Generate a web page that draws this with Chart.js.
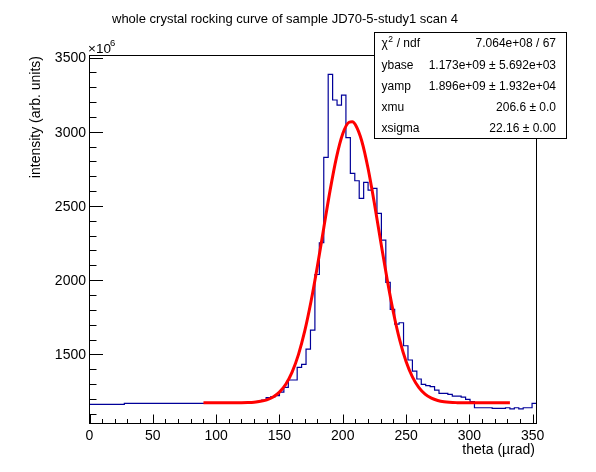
<!DOCTYPE html>
<html>
<head>
<meta charset="utf-8">
<script src="https://cdn.jsdelivr.net/npm/chart.js@4.4.1/dist/chart.umd.min.js"></script>
<style>
  html, body { margin: 0; padding: 0; background: #fff; }
  #wrap { width: 596px; height: 472px; }
</style>
</head>
<body>
<div id="wrap"><canvas id="rocking" width="596" height="472"></canvas></div>
<script>
// histogram: lower bin edges (µrad) and bin contents (x10^6)
const binEdges = [0, 27.5, 94, 97.5, 101, 104.5, 108, 111.5, 115, 118.5, 122, 125.5, 129, 132.5, 136,
  139.5, 143, 146.5, 150, 153.5, 157, 160.5, 164, 167.5, 171, 174.5, 178,
  181.5, 185, 188.5, 192, 195.5, 199, 202.5, 206, 209.5, 213, 216.5, 220, 223.5, 227, 230.5, 234,
  237.5, 241, 244.5, 248, 251.5, 255, 258.5, 262, 265.5, 269, 272.5, 276, 279.5, 283, 286.5, 290, 293.5, 297, 300.5,
  304, 307.5, 311, 314.5, 318, 321.5, 325, 328.5, 332, 335.5, 339, 342.5, 346, 349.5];
const binCounts = [1163, 1170, 1170, 1170, 1171, 1171, 1172, 1172, 1173, 1174, 1175, 1177, 1180, 1184, 1192,
  1208, 1214, 1222, 1246, 1278, 1327, 1327, 1412, 1433, 1535, 1663, 2038,
  2252, 2828, 3387, 3214, 3180, 3247, 2960, 2720, 2670, 2551, 2659, 2607, 2619, 2450, 2270, 1985,
  1803, 1704, 1713, 1558, 1462, 1387, 1334, 1298, 1289, 1282, 1259, 1237, 1237, 1230, 1219, 1219, 1212, 1197, 1181,
  1140, 1140, 1140, 1140, 1136, 1136, 1136, 1140, 1133, 1140, 1133, 1140, 1140, 1170];
const lastEdge = 353;

// fitted curve read along its length
const fitTheta = [90, 100, 110, 120, 125, 130, 135, 140, 145, 150, 155, 160, 165, 170, 175, 180, 185, 190, 195,
  200, 205, 207.5, 210, 215, 220, 225, 230, 235, 240, 245, 250, 255, 260, 265, 270, 275, 280, 290, 300, 310, 320, 332];
const fitCurve = [1173.0, 1173.0, 1173.1, 1173.9, 1175.2, 1177.8, 1183.3, 1193.7, 1212.8, 1245.7, 1299.0, 1380.8,
  1498.5, 1657.6, 1859.0, 2095.4, 2352.0, 2605.0, 2826.1, 2986.7, 3064.1, 3067.4, 3046.8, 2937.6, 2752.2, 2516.1,
  2258.6, 2007.0, 1781.8, 1595.4, 1451.5, 1347.6, 1276.9, 1231.8, 1204.6, 1189.2, 1180.9, 1174.6, 1173.3, 1173.0,
  1173.0, 1173.0];

const xTicks = [0, 50, 100, 150, 200, 250, 300, 350];
const yTicks = [1500, 2000, 2500, 3000, 3500];

const statNames = ['χ2 / ndf', 'ybase', 'yamp', 'xmu', 'xsigma'];
const statValues = ['7.064e+08 / 67', '1.173e+09 ± 5.692e+03', '1.896e+09 ± 1.932e+04', '206.6 ± 0.0', '22.16 ± 0.00'];

const FONT = '"Liberation Sans", Arial, Helvetica, sans-serif';

const histPoints = binEdges.map((e, i) => ({ x: e, y: binCounts[i] }));
histPoints.push({ x: lastEdge, y: binCounts[binCounts.length - 1] });
const fitPoints = fitTheta.map((t, i) => ({ x: t, y: fitCurve[i] }));

// ROOT-like frame, ticks, titles and stats box
const rootFrame = {
    id: 'rootFrame',
    afterDatasetsDraw(chart) {
        const { ctx, chartArea: a, scales: { x, y } } = chart;
        ctx.save();
        ctx.strokeStyle = '#000';
        ctx.lineWidth = 1;
        ctx.strokeRect(a.left, a.top, a.right - a.left, a.bottom - a.top);

        ctx.beginPath();
        const xStep = (xTicks[1] - xTicks[0]) / 5;
        for (let v = xTicks[0]; v <= x.max; v += xStep) {
            const px = Math.round(x.getPixelForValue(v)) + 0.5;
            const major = xTicks.includes(Math.round(v));
            ctx.moveTo(px, a.bottom);
            ctx.lineTo(px, a.bottom - (major ? 9 : 4.5));
        }
        const yStep = (yTicks[1] - yTicks[0]) / 5;
        for (let v = yTicks[0] - yStep * Math.floor((yTicks[0] - y.min) / yStep); v <= y.max; v += yStep) {
            const py = Math.round(y.getPixelForValue(v)) + 0.5;
            const major = yTicks.includes(Math.round(v));
            ctx.moveTo(a.left, py);
            ctx.lineTo(a.left + (major ? 13.5 : 7), py);
        }
        ctx.stroke();

        ctx.fillStyle = '#000';
        ctx.font = `14px ${FONT}`;
        ctx.textAlign = 'center';
        ctx.textBaseline = 'middle';
        xTicks.forEach(v => ctx.fillText(String(v), x.getPixelForValue(v), 436));
        ctx.textAlign = 'right';
        yTicks.forEach(v => ctx.fillText(String(v), 86, y.getPixelForValue(v) + 1));

        // exponent
        ctx.textAlign = 'left';
        ctx.textBaseline = 'alphabetic';
        ctx.font = `13.5px ${FONT}`;
        ctx.fillText('×10', 88, 53);
        ctx.font = `9.5px ${FONT}`;
        ctx.fillText('6', 110, 46);

        // axis titles
        ctx.font = `14px ${FONT}`;
        ctx.textAlign = 'right';
        ctx.textBaseline = 'middle';
        ctx.fillText('theta (µrad)', 535, 450);
        ctx.save();
        ctx.translate(36, 56);
        ctx.rotate(-Math.PI / 2);
        ctx.fillText('intensity (arb. units)', 0, 0);
        ctx.restore();

        // title
        ctx.font = `13px ${FONT}`;
        ctx.textAlign = 'left';
        ctx.fillText('whole crystal rocking curve of sample JD70-5-study1 scan 4', 112, 19);

        // stats box
        const bx = 374.5, by = 32.5, bw = 192, bh = 106, rh = bh / statNames.length;
        ctx.fillStyle = '#fff';
        ctx.fillRect(bx, by, bw, bh);
        ctx.strokeRect(bx, by, bw, bh);
        ctx.fillStyle = '#000';
        ctx.font = `12px ${FONT}`;
        statNames.forEach((name, i) => {
            const cy = by + rh * (i + 0.5) + 1;
            ctx.textAlign = 'left';
            if (i === 0) {
                ctx.fillText('χ', 381.5, cy);
                const w = ctx.measureText('χ').width;
                ctx.font = `8.5px ${FONT}`;
                ctx.fillText('2', 381.5 + w + 0.5, cy - 4);
                ctx.font = `12px ${FONT}`;
                ctx.fillText(' / ndf', 381.5 + w + 5.5, cy);
            } else {
                ctx.fillText(name, 381.5, cy);
            }
            ctx.textAlign = 'right';
            ctx.fillText(statValues[i], 556, cy);
        });
        ctx.restore();
    }
};

new Chart(document.getElementById('rocking'), {
    type: 'line',
    data: {
        datasets: [
            {
                label: 'fit',
                data: fitPoints,
                borderColor: '#ff0000',
                borderWidth: 3,
                pointRadius: 0,
                tension: 0.4,
                cubicInterpolationMode: 'monotone',
                order: 0
            },
            {
                label: 'histogram',
                data: histPoints,
                borderColor: '#000099',
                borderWidth: 1.2,
                pointRadius: 0,
                stepped: true,
                order: 1
            }
        ]
    },
    options: {
        responsive: false,
        animation: false,
        events: [],
        layout: { padding: { top: 55.5, right: 59.5, left: 0, bottom: 0 } },
        plugins: { legend: { display: false }, tooltip: { enabled: false }, title: { display: false } },
        scales: {
            x: {
                type: 'linear', min: 0, max: lastEdge,
                grid: { display: false }, border: { display: false },
                ticks: { display: false },
                afterFit: s => { s.height = 48.5; }
            },
            y: {
                type: 'linear', min: 1034, max: 3514,
                grid: { display: false }, border: { display: false },
                ticks: { display: false },
                afterFit: s => { s.width = 89.5; }
            }
        }
    },
    plugins: [rootFrame]
});
</script>
</body>
</html>
